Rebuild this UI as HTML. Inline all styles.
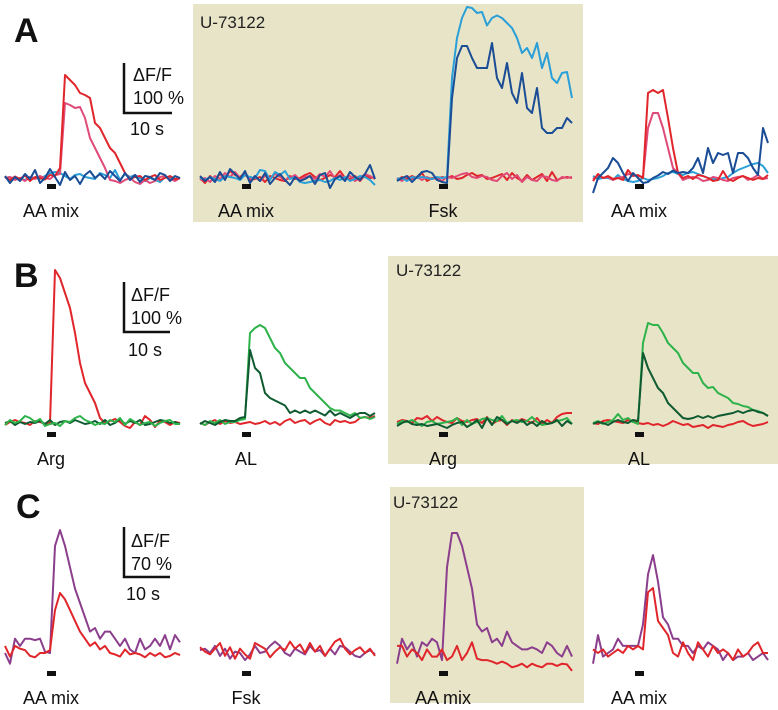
<!DOCTYPE html>
<html><head><meta charset="utf-8">
<style>
html,body{margin:0;padding:0;background:#fff;}
svg{display:block;font-family:"Liberation Sans",Arial,sans-serif;}
</style></head>
<body>
<svg id="fig" width="778" height="710" viewBox="0 0 778 710">
  <rect x="193" y="4" width="390" height="218" fill="#e8e4c8"/>
  <rect x="388" y="256" width="390" height="208" fill="#e8e4c8"/>
  <rect x="390" y="487" width="194" height="216" fill="#e8e4c8"/>
  <text x="14" y="42" font-size="34" font-weight="bold" fill="#111">A</text>
  <text x="14" y="287" font-size="34" font-weight="bold" fill="#111">B</text>
  <text x="16" y="518" font-size="34" font-weight="bold" fill="#111">C</text>
  <text x="200" y="28" font-size="17" fill="#222">U-73122</text>
  <text x="396" y="276" font-size="17" fill="#222">U-73122</text>
  <text x="393" y="508" font-size="17" fill="#222">U-73122</text>
  <g font-size="18" fill="#111">
    <path d="M124,63 V113 H172" stroke="#111" stroke-width="2.5" fill="none"/>
    <text x="133" y="81">ΔF/F</text><text x="133" y="104">100 %</text><text x="130" y="135">10 s</text>
  </g>
  <g font-size="18" fill="#111">
    <path d="M124,282 V332 H170" stroke="#111" stroke-width="2.5" fill="none"/>
    <text x="131" y="301">ΔF/F</text><text x="131" y="324">100 %</text><text x="128" y="356">10 s</text>
  </g>
  <g font-size="18" fill="#111">
    <path d="M124,527 V577 H170" stroke="#111" stroke-width="2.5" fill="none"/>
    <text x="131" y="547">ΔF/F</text><text x="131" y="570">70 %</text><text x="126" y="600">10 s</text>
  </g>
  <g id="traces"></g>
</svg>
<script>
var RED="#e0262b",PINK="#e04a78",DBLUE="#1a4d96",CYAN="#2a9fd8",LGREEN="#2db34a",DGREEN="#0f5a30",PURPLE="#8b3e8c";
var a1Red=[2,-4,3,-2,5,-6,2,0,-3,6,4,20,206,196,186,170,166,160,110,100,80,60,50,30,10,-2,2,4,-4,2,6,-4,0,4,-2,0];
var a1Pink=[0,2,-4,0,-6,2,-2,4,0,-2,6,8,150,146,140,142,120,80,60,40,20,-4,-6,-10,-4,0,-8,-12,-4,-10,-6,2,4,-2,-6,0];
var a1Dblue=[4,-10,2,-6,8,-2,16,-10,0,18,2,-14,12,-4,4,-12,6,14,0,8,-2,14,4,-6,10,-4,6,-8,4,2,-4,10,6,-6,4,0];
var a1Cyan=[0,2,-2,0,-4,2,0,-2,4,10,12,10,4,-2,6,8,2,0,-2,10,6,0,16,-4,8,2,6,0,-6,0,-4,-8,2,0,-4,0];
var a2Red=[0,-10,4,-4,8,0,14,6,2,10,-4,-2,2,-8,4,0,-4,-6,4,-2,0,6,10,2,-4,0,6,2,14,0,-2,4,-6,6,0,2];
var a2Pink=[-4,0,-8,4,-2,10,2,12,0,6,-2,2,-6,4,0,8,2,-4,0,6,-4,2,4,-2,8,2,14,-2,6,0,4,-6,0,8,4,-2];
var a2Dblue=[4,-6,2,-8,12,-4,18,8,-2,14,-10,4,-6,10,-12,0,8,-4,-14,2,-6,-2,4,-12,6,10,-20,-2,4,-6,12,2,-4,8,26,-2];
var a2Cyan=[0,-4,2,-2,-6,4,2,0,-4,6,2,0,16,14,-4,12,6,14,-2,2,-8,-10,-8,-6,-4,-8,-6,0,-4,2,-6,-2,4,2,-4,-14];
var a3Red=[-4,2,-2,4,0,10,-6,0,-2,2,0,4,-2,0,6,10,4,6,-2,0,4,8,-4,10,0,-6,6,-4,2,8,-6,12,-4,0,2,0];
var a3Pink=[0,-6,4,-2,2,-4,2,-2,0,-6,2,0,4,8,10,2,0,4,2,-4,-6,4,10,-2,6,-8,2,-4,-6,4,2,-4,-6,2,0,2];
var a3Dblue=[-6,0,4,-8,2,12,14,10,-4,-8,-10,160,240,264,264,240,220,220,220,270,200,180,230,170,150,210,140,130,180,100,90,90,100,100,120,110];
var a3Cyan=[-2,0,-6,2,0,2,0,-2,2,0,2,200,280,320,342,340,330,332,305,320,325,320,310,300,280,250,260,240,270,220,250,200,190,210,212,160];
var a4Red=[-6,8,0,4,-2,0,-4,16,4,6,0,170,176,170,176,120,60,10,0,4,-2,6,4,0,-6,-4,14,-2,-6,0,4,0,-4,0,-2,6];
var a4Pink=[-2,6,0,2,-4,0,2,8,6,4,2,100,130,130,100,60,20,10,-4,0,2,0,-6,-4,2,0,-4,-6,0,2,4,-4,0,6,-2,0];
var a4Dblue=[-30,0,10,20,40,30,10,-6,10,0,-10,-8,0,5,12,8,15,10,12,10,20,40,10,60,30,50,46,50,10,50,50,40,20,6,100,70];
var a4Cyan=[4,-2,0,0,-4,6,-2,-6,-8,-6,0,-4,-2,0,4,10,12,8,6,10,12,8,4,0,-2,-4,0,2,10,16,20,24,28,30,24,10];
var b1Red=[-4,2,6,2,0,-4,4,2,-2,0,306,290,260,230,180,120,80,60,40,10,0,4,8,2,-6,-10,2,-4,14,6,-8,4,2,-4,2,0];
var b1Dgreen=[0,4,-4,2,-2,2,0,4,-2,6,-4,2,4,0,6,2,-2,0,4,-2,6,-4,0,8,-2,4,0,6,-4,-2,2,6,4,0,2,-2];
var b1Lgreen=[-4,6,0,4,14,10,2,8,-6,-2,0,-6,4,2,10,14,6,2,-4,0,-2,6,2,10,-4,8,2,-4,0,2,-6,0,4,6,-2,-2];
var b2Red=[0,-4,2,6,-2,4,0,2,-2,0,2,-2,0,4,-2,2,-4,4,8,0,4,6,-2,4,8,0,-4,6,2,4,0,2,10,12,10,14];
var b2Dgreen=[-2,4,0,-4,2,6,4,4,10,12,146,110,100,60,50,45,40,35,20,25,20,25,20,25,20,15,25,15,20,15,10,16,20,20,14,20];
var b2Lgreen=[0,-4,4,0,6,-2,2,2,6,8,180,190,196,190,170,150,140,120,110,100,90,90,70,60,50,40,30,25,25,20,15,20,10,12,8,12];
var b3Red=[2,6,4,0,10,8,14,4,12,6,2,0,10,4,2,6,8,0,12,-2,4,6,-4,6,2,8,4,0,10,-2,6,0,12,18,20,20];
var b3Dgreen=[-6,0,4,-2,-4,-2,-6,-4,-2,-6,-10,-4,0,2,-8,-2,6,-10,10,-4,12,6,-2,4,0,6,-4,2,-6,4,-2,0,6,-6,4,-2];
var b3Lgreen=[-2,4,2,6,0,-6,2,4,-2,0,2,4,10,-4,6,-2,2,8,10,6,4,14,0,4,6,2,4,12,2,-4,-2,0,4,6,10,-2];
var b4Red=[0,-2,4,6,4,2,0,6,4,0,-2,0,-4,-2,-6,-2,4,0,-4,-2,-8,-6,-4,-10,-4,-6,-8,-4,-2,2,4,-2,-6,-4,-2,2];
var b4Dgreen=[-2,2,0,-4,2,6,2,0,6,4,140,110,90,70,60,40,30,20,10,8,10,14,10,14,10,14,16,18,20,24,20,24,26,22,20,14];
var b4Lgreen=[0,4,-2,2,6,18,6,10,2,-2,160,200,196,196,180,160,150,140,120,110,100,100,80,70,72,60,55,50,40,38,34,32,26,24,20,14];
var c1Purple=[0,-15,20,10,20,20,18,20,2,0,150,172,150,120,90,70,50,30,35,20,30,30,20,10,20,5,0,20,5,10,20,10,25,5,25,15];
var c1Red=[10,-5,10,6,4,-4,-6,0,0,4,60,84,75,60,45,30,20,10,15,5,10,0,-2,-5,5,-2,0,-2,-6,0,-4,0,-6,-4,0,-3];
var c2Purple=[4,6,0,10,-4,6,-8,2,0,-10,-2,10,0,2,10,16,10,0,-4,6,2,-2,10,2,4,-4,6,-2,10,8,2,-4,-6,0,4,-2];
var c2Red=[8,2,-2,6,14,-4,8,-8,6,-2,-8,14,10,6,-6,2,8,4,16,6,12,0,14,2,10,-4,6,16,20,6,-2,4,8,0,6,-4];
var c3Purple=[-15,20,5,15,-5,15,10,20,15,-10,120,168,168,150,120,90,40,30,35,15,20,10,30,15,10,5,5,8,5,0,15,10,0,-5,10,-5];
var c3Red=[10,10,-5,5,0,-10,5,-5,-5,5,-10,-5,10,-10,0,15,-8,-10,-10,-12,-15,-12,-15,-20,-18,-15,-20,-15,-18,-20,-15,-15,-18,-15,-16,-25];
var c4Purple=[-15,25,-5,0,5,20,10,10,10,10,40,110,137,100,50,40,20,20,10,10,0,10,5,15,10,5,-10,0,-10,-5,-5,0,-10,-5,0,-10];
var c4Red=[5,0,5,-5,0,5,0,10,5,10,5,85,91,45,35,25,0,-5,15,0,-10,15,5,-5,10,0,5,0,-10,5,-5,0,10,15,0,0];

var stimLabelsA=["AA mix","AA mix","Fsk","AA mix"];
var stimLabelsB=["Arg","AL","Arg","AL"];
var stimLabelsC=["AA mix","Fsk","AA mix","AA mix"];

var NS="http://www.w3.org/2000/svg";
var G=document.getElementById("traces");
function xScale(p,i){return p.x0+i*p.step;}
function yScale(p,v){return p.base-v*p.k;}
function drawPanel(p,series,label,name){
  var g=document.createElementNS(NS,"g");
  
  
  series.forEach(function(s){
    var d="";
    for(var i=0;i<s.v.length;i++){d+=(i?"L":"M")+xScale(p,i).toFixed(1)+","+yScale(p,s.v[i]).toFixed(1);}
    var path=document.createElementNS(NS,"path");
    path.setAttribute("d",d);path.setAttribute("fill","none");
    path.setAttribute("stroke",s.c);path.setAttribute("stroke-width","2");
    path.setAttribute("stroke-linejoin","round");
    
    
    g.appendChild(path);
  });
  var bar=document.createElementNS(NS,"rect");
  bar.setAttribute("x",p.x0+42);bar.setAttribute("y",p.stimY);
  bar.setAttribute("width",9);bar.setAttribute("height",5);bar.setAttribute("fill","#111");
  
  
  g.appendChild(bar);
  var t=document.createElementNS(NS,"text");
  t.setAttribute("x",p.x0+46);t.setAttribute("y",p.stimY+33);
  t.setAttribute("text-anchor","middle");t.setAttribute("font-size","18");t.setAttribute("fill","#111");
  t.textContent=label;
  
  
  g.appendChild(t);
  G.appendChild(g);
}
var kA=0.5,kC=50/70,st=5;
var xs=[5,200,397,593];
drawPanel({x0:xs[0],base:178,k:kA,step:st,stimY:184},[{v:a1Cyan,c:CYAN,n:'cyan'},{v:a1Pink,c:PINK,n:'pink'},{v:a1Red,c:RED,n:'red'},{v:a1Dblue,c:DBLUE,n:'dark-blue'}],stimLabelsA[0],'a-aa-mix');
drawPanel({x0:xs[1],base:178,k:kA,step:st,stimY:184},[{v:a2Red,c:RED,n:'red'},{v:a2Pink,c:PINK,n:'pink'},{v:a2Cyan,c:CYAN,n:'cyan'},{v:a2Dblue,c:DBLUE,n:'dark-blue'}],stimLabelsA[1],'a-u73122-aa-mix');
drawPanel({x0:xs[2],base:178,k:kA,step:st,stimY:184},[{v:a3Red,c:RED,n:'red'},{v:a3Pink,c:PINK,n:'pink'},{v:a3Cyan,c:CYAN,n:'cyan'},{v:a3Dblue,c:DBLUE,n:'dark-blue'}],stimLabelsA[2],'a-u73122-fsk');
drawPanel({x0:xs[3],base:178,k:kA,step:st,stimY:184},[{v:a4Cyan,c:CYAN,n:'cyan'},{v:a4Pink,c:PINK,n:'pink'},{v:a4Red,c:RED,n:'red'},{v:a4Dblue,c:DBLUE,n:'dark-blue'}],stimLabelsA[3],'a-washout-aa-mix');
drawPanel({x0:xs[0],base:423,k:kA,step:st,stimY:432},[{v:b1Red,c:RED,n:'red'},{v:b1Dgreen,c:DGREEN,n:'dark-green'},{v:b1Lgreen,c:LGREEN,n:'light-green'}],stimLabelsB[0],'b-arg');
drawPanel({x0:xs[1],base:423,k:kA,step:st,stimY:432},[{v:b2Red,c:RED,n:'red'},{v:b2Lgreen,c:LGREEN,n:'light-green'},{v:b2Dgreen,c:DGREEN,n:'dark-green'}],stimLabelsB[1],'b-al');
drawPanel({x0:xs[2],base:423,k:kA,step:st,stimY:432},[{v:b3Red,c:RED,n:'red'},{v:b3Lgreen,c:LGREEN,n:'light-green'},{v:b3Dgreen,c:DGREEN,n:'dark-green'}],stimLabelsB[2],'b-u73122-arg');
drawPanel({x0:xs[3],base:423,k:kA,step:st,stimY:432},[{v:b4Red,c:RED,n:'red'},{v:b4Lgreen,c:LGREEN,n:'light-green'},{v:b4Dgreen,c:DGREEN,n:'dark-green'}],stimLabelsB[3],'b-u73122-al');
drawPanel({x0:xs[0],base:653,k:kC,step:st,stimY:671},[{v:c1Purple,c:PURPLE,n:'purple'},{v:c1Red,c:RED,n:'red'}],stimLabelsC[0],'c-aa-mix');
drawPanel({x0:xs[1],base:653,k:kC,step:st,stimY:671},[{v:c2Purple,c:PURPLE,n:'purple'},{v:c2Red,c:RED,n:'red'}],stimLabelsC[1],'c-fsk');
drawPanel({x0:xs[2],base:653,k:kC,step:st,stimY:671},[{v:c3Purple,c:PURPLE,n:'purple'},{v:c3Red,c:RED,n:'red'}],stimLabelsC[2],'c-u73122-aa-mix');
drawPanel({x0:xs[3],base:653,k:kC,step:st,stimY:671},[{v:c4Purple,c:PURPLE,n:'purple'},{v:c4Red,c:RED,n:'red'}],stimLabelsC[3],'c-washout-aa-mix');
</script>
</body></html>
